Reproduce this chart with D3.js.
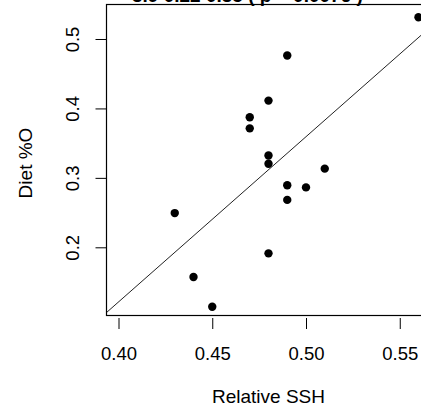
<div id="container"></div>
<script src="https://d3js.org/d3.v7.min.js"></script>
<script>
// values
var ssh  = [0.56, 0.49, 0.48, 0.47, 0.47, 0.48, 0.48, 0.51, 0.49, 0.50, 0.49, 0.43, 0.48, 0.44, 0.45];
var diet = [0.532, 0.477, 0.412, 0.388, 0.372, 0.333, 0.321, 0.314, 0.290, 0.287, 0.269, 0.250, 0.192, 0.158, 0.115];
var xTicks = [0.40, 0.45, 0.50, 0.55];
var yTicks = [0.2, 0.3, 0.4, 0.5];
var fitIntercept = -0.83, fitSlope = 2.38;
var titleText = "3.9  0.22  0.35  ( p = 0.0076 )";

var W = 421, H = 411;
var box = {left: 106.5, right: 430.5, top: 4.5, bottom: 315.5};

var svg = d3.select("#container").append("svg")
    .attr("width", W).attr("height", H)
    .style("position", "absolute").style("left", 0).style("top", 0)
    .style("font-family", "'Liberation Sans', Arial, sans-serif");
d3.select("body").style("margin", 0).style("background", "#fff");

var x = d3.scaleLinear().domain([0.3936, 0.5664]).range([box.left, box.right]);
var y = d3.scaleLinear().domain([0.1025, 0.5504]).range([box.bottom, box.top]);

// clip
svg.append("clipPath").attr("id", "clip").append("rect")
    .attr("x", box.left).attr("y", box.top)
    .attr("width", box.right - box.left).attr("height", box.bottom - box.top);

// title (mostly cut off at top, as in the source)
svg.append("text")
    .attr("x", 132).attr("y", 2)
    .style("font-weight", "bold").style("font-size", "19px")
    .attr("fill", "#000")
    .text(titleText);

// fit line
var xd = x.domain();
svg.append("line")
    .attr("clip-path", "url(#clip)")
    .attr("x1", x(xd[0])).attr("y1", y(fitIntercept + fitSlope * xd[0]))
    .attr("x2", x(xd[1])).attr("y2", y(fitIntercept + fitSlope * xd[1]))
    .attr("stroke", "#222").attr("stroke-width", 1);

// points
svg.append("g").selectAll("circle").data(ssh).enter().append("circle")
    .attr("cx", function (d) { return x(d); })
    .attr("cy", function (d, i) { return y(diet[i]); })
    .attr("r", 4.2)
    .attr("fill", "#000");

// box
svg.append("rect")
    .attr("x", box.left).attr("y", box.top)
    .attr("width", box.right - box.left).attr("height", box.bottom - box.top)
    .attr("fill", "none").attr("stroke", "#000").attr("stroke-width", 1.2);

// x axis
var xAxis = d3.axisBottom(x).tickValues(xTicks).tickFormat(d3.format(".2f"))
    .tickSize(11).tickPadding(18);
var gx = svg.append("g").attr("transform", "translate(0," + 318 + ")").call(xAxis);
gx.select(".domain").remove();
gx.selectAll("text").style("font-size", "18.5px").attr("fill", "#000")
    .style("font-family", "'Liberation Sans', Arial, sans-serif");

// y axis
var yAxis = d3.axisLeft(y).tickValues(yTicks).tickFormat(d3.format(".1f"))
    .tickSize(11).tickPadding(0);
var gy = svg.append("g").attr("transform", "translate(" + box.left + ",0)").call(yAxis);
gy.select(".domain").remove();
gy.selectAll("text")
    .attr("x", null).attr("dy", null)
    .attr("text-anchor", "middle")
    .attr("transform", function (d) { return "translate(" + (-28) + "," + y(d) + ") rotate(-90)"; })
    .attr("y", 0)
    .style("font-size", "18.5px").attr("fill", "#000")
    .style("font-family", "'Liberation Sans', Arial, sans-serif");
gy.selectAll(".tick").attr("transform", null);
gy.selectAll(".tick line").attr("y1", function (d) { return y(d); }).attr("y2", function (d) { return y(d); });

// axis titles
svg.append("text")
    .attr("x", 268.5).attr("y", 403)
    .attr("text-anchor", "middle").style("font-size", "19px")
    .text("Relative SSH");
svg.append("text")
    .attr("transform", "translate(32,163) rotate(-90)")
    .attr("text-anchor", "middle").style("font-size", "19px")
    .text("Diet %O");
</script>
